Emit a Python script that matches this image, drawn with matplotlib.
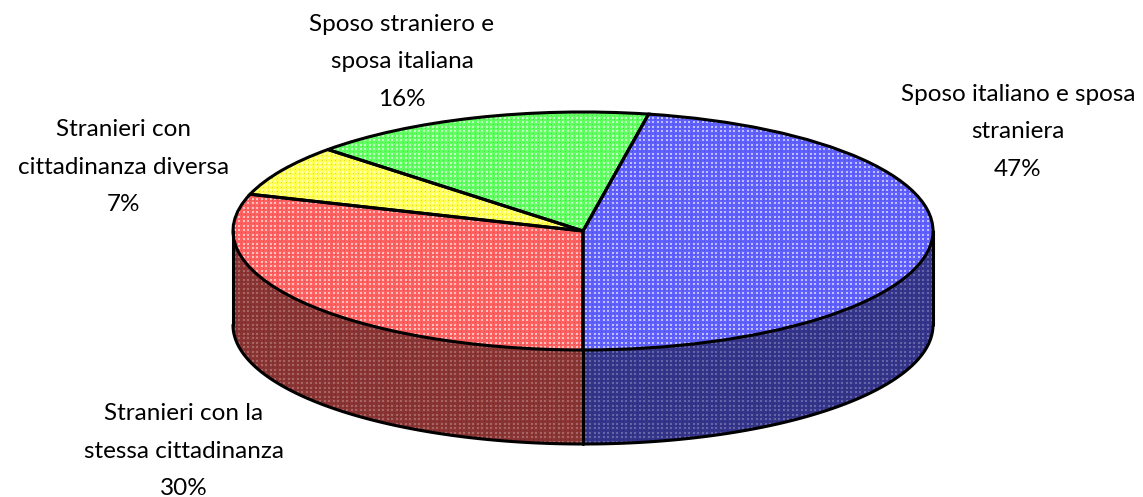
import matplotlib
matplotlib.use('Agg')
import matplotlib.pyplot as plt
from matplotlib.colors import to_rgb
from matplotlib.patches import Polygon, Wedge
import numpy as np

# Dati
etichette = ['Sposo italiano e sposa\nstraniera\n47%',
             'Sposo straniero e\nsposa italiana\n16%',
             'Stranieri con\ncittadinanza diversa\n7%',
             'Stranieri con la\nstessa cittadinanza\n30%']
valori = [47, 16, 7, 30]
colori = ['#6060ff', '#60ff60', '#ffff50', '#ff6060']
colori_lato = ['#34348a', None, None, '#8a3434']
pos_etichette = [(1018, 132), (402, 62), (124, 167), (184, 451)]

W, H = 1143, 497
cx, cy = 583, 231
rx, ry = 350, 119
prof = 94

plt.rcParams['font.family'] = ['Lato', 'DejaVu Sans']

fig = plt.figure(figsize=(W / 100, H / 100), dpi=100)
ax = fig.add_axes([0, 0, 1, 1])


def trama(colore, patch, chiaro, scuro):
    # motivo a puntini, un pixel dell'array = un pixel della figura
    c = np.array(to_rgb(colore))
    yy, xx = np.indices((H, W))
    img = np.ones((H, W, 3)) * c
    px = np.isin(xx % 9, [0, 1, 4, 5])
    py = np.isin(yy % 9, [0, 1, 4, 5])
    qx = np.isin(xx % 9, [2, 7])
    qy = np.isin(yy % 9, [2, 7])
    img[px & py] = c + (1 - c) * chiaro
    img[qx & qy] = c * (1 - scuro)
    lim = [(0 - cx) / rx, (W - cx) / rx, (cy - H) / ry, cy / ry]
    im = ax.imshow(img, extent=lim, origin='upper', aspect='auto',
                   interpolation='nearest', zorder=patch.get_zorder())
    im.set_clip_path(patch)


wedges, _ = ax.pie(valori, startangle=270, counterclock=True, radius=1,
                   wedgeprops=dict(edgecolor='black', linewidth=2.2,
                                   facecolor='none', zorder=4))

# lati della torta, gli angoli vengono dai valori
d = prof / ry
for w, col in zip(wedges, colori_lato):
    if col is None:
        continue
    a1, a2 = w.theta1, w.theta2
    if a1 > 360:
        a1, a2 = a1 - 360, a2 - 360
    # solo la parte visibile davanti
    t = np.radians(np.linspace(max(a1, 180), min(a2, 360), 120))
    x = np.cos(t)
    y = np.sin(t)
    lato = Polygon(np.column_stack([np.r_[x, x[::-1]], np.r_[y, y[::-1] - d]]),
                   facecolor='none', edgecolor='none', zorder=1)
    ax.add_patch(lato)
    trama(col, lato, 0.25, 0.2)
    ax.plot(x, y - d, color='black', lw=2.2, zorder=3, solid_capstyle='round')

for xv, y0 in [(-1, 0), (0, -1), (1, 0)]:
    ax.plot([xv, xv], [y0, y0 - d], color='black', lw=2.2, zorder=3,
            solid_capstyle='round')

for w, col in zip(wedges, colori):
    sotto = Wedge(w.center, w.r, w.theta1, w.theta2, facecolor='none',
                  edgecolor='none', zorder=2)
    ax.add_patch(sotto)
    trama(col, sotto, 0.6, 0.15)

ax.set_xlim((0 - cx) / rx, (W - cx) / rx)
ax.set_ylim((cy - H) / ry, cy / ry)
ax.set_aspect('auto')
ax.axis('off')

for testo, (px, py) in zip(etichette, pos_etichette):
    ax.text((px - cx) / rx, (cy - py) / ry, testo, ha='center', va='center',
            fontsize=17.5, linespacing=1.95, color='black', zorder=6)

fig.savefig('out.png', dpi=100)
